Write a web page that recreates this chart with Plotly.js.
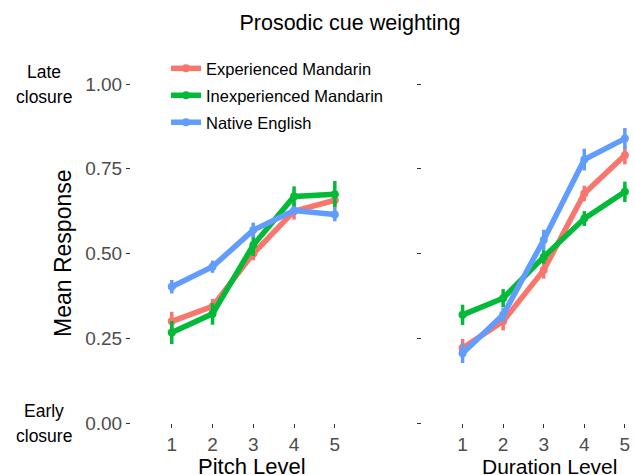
<!DOCTYPE html>
<html>
<head>
<meta charset="utf-8">
<script src="https://cdn.plot.ly/plotly-3.0.1.min.js"></script>
<style>html,body{margin:0;padding:0;background:#fff;}#chart{width:635px;height:475px;}</style>
</head>
<body>
<div id="chart"></div>
<script>
// ---- data ----
const levels = [1, 2, 3, 4, 5];
const groups = ["Experienced Mandarin", "Inexperienced Mandarin", "Native English"];
const colors = ["#F8766D", "#00BA38", "#619CFF"];

const pitchExp     = [0.300, 0.344, 0.500, 0.625, 0.657];
const pitchExpSE   = [0.028, 0.022, 0.020, 0.025, 0.022];
const pitchInexp   = [0.267, 0.322, 0.525, 0.668, 0.675];
const pitchInexpSE = [0.034, 0.032, 0.032, 0.030, 0.039];
const pitchNat     = [0.402, 0.461, 0.569, 0.627, 0.615];
const pitchNatSE   = [0.020, 0.018, 0.022, 0.012, 0.020];

const durExp       = [0.221, 0.300, 0.451, 0.677, 0.790];
const durExpSE     = [0.027, 0.027, 0.025, 0.023, 0.027];
const durInexp     = [0.319, 0.368, 0.490, 0.603, 0.682];
const durInexpSE   = [0.030, 0.027, 0.020, 0.022, 0.030];
const durNat       = [0.206, 0.319, 0.540, 0.777, 0.839];
const durNatSE     = [0.029, 0.020, 0.030, 0.032, 0.031];

const yTicks = [0, 0.25, 0.5, 0.75, 1];
const yTickText = ["0.00", "0.25", "0.50", "0.75", "1.00"];

const pitchSeries = [[pitchExp, pitchExpSE], [pitchInexp, pitchInexpSE], [pitchNat, pitchNatSE]];
const durSeries = [[durExp, durExpSE], [durInexp, durInexpSE], [durNat, durNatSE]];

function mk(vals, se, i, xa, ya, showleg) {
  return {
    type: "scatter", mode: "lines+markers",
    x: levels, y: vals, xaxis: xa, yaxis: ya,
    name: groups[i], legendgroup: groups[i], showlegend: showleg,
    line: {color: colors[i], width: 5.5},
    marker: {color: colors[i], size: 8},
    error_y: {type: "data", array: se, visible: true, color: colors[i], thickness: 3.5, width: 0},
    hoverinfo: "skip"
  };
}

const traces = [];
pitchSeries.forEach((s, i) => traces.push(mk(s[0], s[1], i, "x", "y", true)));
durSeries.forEach((s, i) => traces.push(mk(s[0], s[1], i, "x2", "y2", false)));

const tickFont = {family: "Liberation Sans, Arial, sans-serif", size: 19, color: "#4D4D4D"};
const commonX = {
  range: [0, 5.25], tickvals: levels, ticktext: levels.map(String),
  ticks: "outside", ticklen: 4, tickwidth: 1, tickcolor: "#333333",
  showline: false, showgrid: false, zeroline: false, tickfont: tickFont, fixedrange: true
};
const commonY = {
  range: [0, 1], tickvals: yTicks, ticktext: yTickText,
  ticks: "outside", ticklen: 4, tickwidth: 1, tickcolor: "#333333",
  showline: false, showgrid: false, zeroline: false, tickfont: tickFont, fixedrange: true
};

const txt = {family: "Liberation Sans, Arial, sans-serif", color: "#000000"};
const side = (44 - 131) / 504;
const py = v => (423.5 - v) / 340;
const layout = {
  width: 635, height: 475,
  margin: {l: 131, r: 0, t: 83.5, b: 51.5, autoexpand: false},
  paper_bgcolor: "#ffffff", plot_bgcolor: "#ffffff",
  title: {text: "Prosodic cue weighting", x: 350/635, xanchor: "center", y: 1 - 22/475, yanchor: "middle",
          font: Object.assign({size: 21.5}, txt)},
  xaxis: Object.assign({domain: [0, 214/504], anchor: "y"}, commonX),
  xaxis2: Object.assign({domain: [291/504, 1], anchor: "y2"}, commonX),
  yaxis: Object.assign({domain: [0, 1], anchor: "x"}, commonY),
  yaxis2: Object.assign({domain: [0, 1], anchor: "x2", showticklabels: false}, commonY),
  showlegend: true,
  legend: {x: (166 - 131) / 504, xanchor: "left", y: py(50.5), yanchor: "top",
           font: Object.assign({size: 16.5}, txt), bgcolor: "rgba(0,0,0,0)",
           tracegroupgap: 2.5, itemclick: false, itemdoubleclick: false},
  annotations: [
    {text: "Mean Response", xref: "paper", yref: "paper", x: (63 - 131) / 504, y: 0.5015,
     textangle: -90, showarrow: false, xanchor: "center", yanchor: "middle", font: Object.assign({size: 23}, txt)},
    {text: "Pitch Level", xref: "paper", yref: "paper", x: (252 - 131) / 504, y: py(467.5),
     showarrow: false, xanchor: "center", yanchor: "middle", font: Object.assign({size: 22}, txt)},
    {text: "Duration Level", xref: "paper", yref: "paper", x: (549 - 131) / 504, y: py(467.5),
     showarrow: false, xanchor: "center", yanchor: "middle", font: Object.assign({size: 21}, txt)},
    {text: "Late", xref: "paper", yref: "paper", x: side, y: py(71),
     showarrow: false, xanchor: "center", yanchor: "middle", font: Object.assign({size: 17.5}, txt)},
    {text: "closure", xref: "paper", yref: "paper", x: side, y: py(97),
     showarrow: false, xanchor: "center", yanchor: "middle", font: Object.assign({size: 17.5}, txt)},
    {text: "Early", xref: "paper", yref: "paper", x: side, y: py(411),
     showarrow: false, xanchor: "center", yanchor: "middle", font: Object.assign({size: 17.5}, txt)},
    {text: "closure", xref: "paper", yref: "paper", x: side, y: py(437),
     showarrow: false, xanchor: "center", yanchor: "middle", font: Object.assign({size: 17.5}, txt)}
  ]
};

Plotly.newPlot("chart", traces, layout, {staticPlot: true, displayModeBar: false});
</script>
</body>
</html>
